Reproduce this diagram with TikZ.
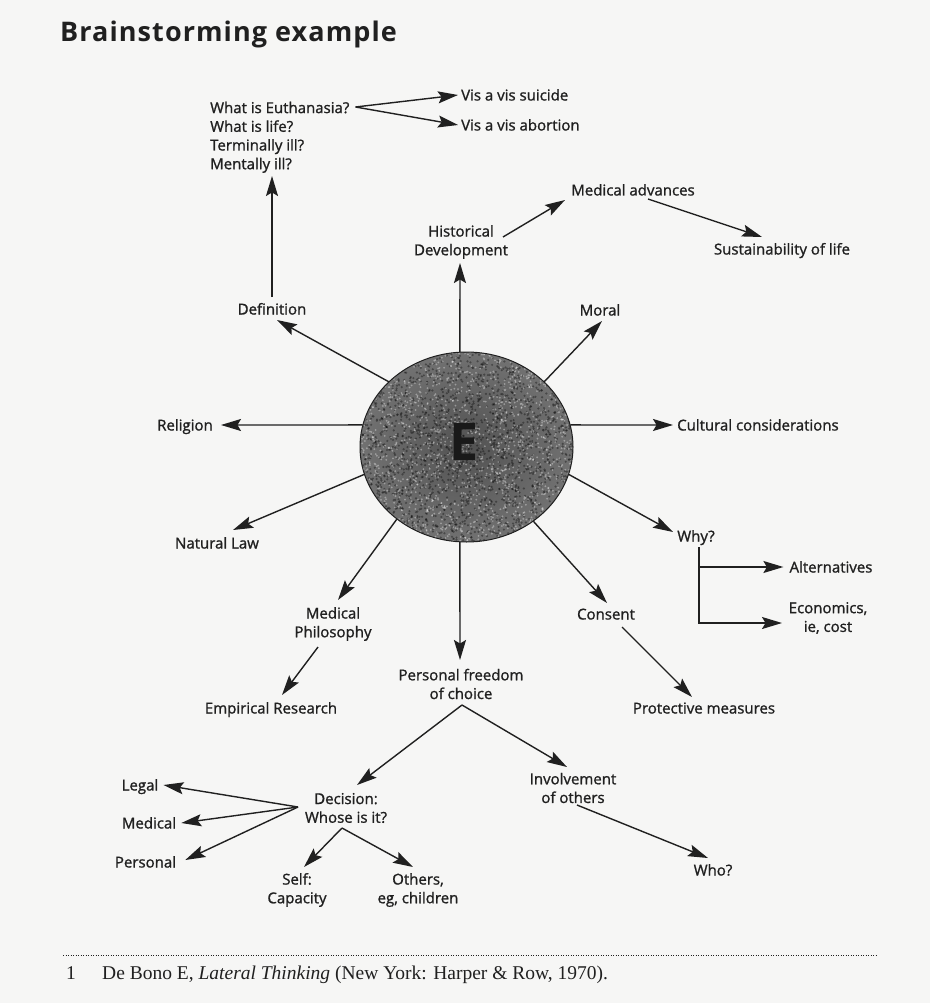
\documentclass[tikz,border=0pt]{standalone}
\usepackage{fontspec}
\setmainfont{Liberation Serif}
\newfontfamily\lbl[UprightFeatures={FakeBold=1.2}]{Open Sans}
\newfontfamily\ttl[LetterSpace=4]{Open Sans}
\usetikzlibrary{arrows.meta,calc,shapes.geometric}
\definecolor{paper}{RGB}{246,246,245}
\definecolor{ink}{RGB}{32,32,32}
\pgfdeclareradialshading{blob}{\pgfpoint{0bp}{0bp}}{color(0bp)=(black!68); color(28bp)=(black!54); color(50bp)=(black!38)}
\begin{document}
\begin{tikzpicture}[x=1pt,y=-1pt,
  lbase/.style={font=\lbl\fontsize{15}{18.7}\selectfont, text=ink, inner sep=0pt, align=center},
  lab/.style={lbase, text height=11pt, text depth=0pt},
  ml/.style={lbase},
  arr/.style={draw=ink, line width=1.4pt, -{Stealth[length=20pt,width=12pt,inset=3.5pt]}},
  ln/.style={draw=ink, line width=1.4pt}]
\useasboundingbox (0,0) rectangle (930,1003);
\fill[paper] (0,0) rectangle (930,1003);

% title
\node[font=\ttl\bfseries\fontsize{27}{30}\selectfont, text=ink, inner sep=0pt, anchor=base west] (title) at (60,42) {Brainstorming example};

% central blob
\node[ellipse, minimum width=213pt, minimum height=190pt, inner sep=0pt, shading=blob] (circ) at (466.5,447) {};
\begin{scope}
  \clip (466.5,447) ellipse [x radius=106.5, y radius=95];
  \pgfmathsetseed{42}
  \foreach \i in {1,...,2200}{
    \fill[black, opacity=0.35] (360+213*rnd, 352+190*rnd) circle[radius=1.2];
  }
  \foreach \i in {1,...,1800}{
    \fill[white, opacity=0.35] (360+213*rnd, 352+190*rnd) circle[radius=1.0];
  }
\end{scope}
\draw[ink, line width=1pt] (466.5,447) ellipse [x radius=106.5, y radius=95];
\node[font=\ttl\bfseries\fontsize{52}{52}\selectfont, text=black!90, inner sep=0pt] (E) at (464,441.5) {E};

% labels
\node[lbase, align=left, anchor=north west] (whatis) at (210,101.5) {What is Euthanasia?\\What is life?\\Terminally ill?\\Mentally ill?};
\node[lab, anchor=west] (vsui) at (461,95) {Vis a vis suicide};
\node[lab, anchor=west] (vabo) at (461,125) {Vis a vis abortion};
\node[lab] (def) at (272,309) {Definition};
\node[ml] (hist) at (461,242) {Historical\\Development};
\node[lab] (medadv) at (633,190) {Medical advances};
\node[lab] (sust) at (782,249) {Sustainability of life};
\node[lab] (moral) at (600,310) {Moral};
\node[lab] (rel) at (185,425) {Religion};
\node[lab, anchor=west] (cult) at (677,425) {Cultural considerations};
\node[lab] (natlaw) at (217,543) {Natural Law};
\node[ml] (medphil) at (333,624) {Medical\\Philosophy};
\node[lab] (emp) at (271,708) {Empirical Research};
\node[ml] (pfree) at (461,684) {Personal freedom\\of choice};
\node[lab] (why) at (696,536) {Why?};
\node[lab] (alt) at (831,567) {Alternatives};
\node[ml] (econ) at (828,618) {Economics,\\ie, cost};
\node[lab] (cons) at (606,614) {Consent};
\node[lab] (prot) at (704,708) {Protective measures};
\node[ml] (dec) at (346,808) {Decision:\\Whose is it?};
\node[ml] (inv) at (573,788) {Involvement\\of others};
\node[lab] (who) at (713,870) {Who?};
\node[lab] (legal) at (140,785) {Legal};
\node[lab] (med) at (149,823) {Medical};
\node[lab] (pers) at (145.5,862) {Personal};
\node[ml] (self) at (297,890) {Self:\\Capacity};
\node[ml] (oth) at (418,890) {Others,\\eg, children};

% connectors
\draw[arr] ($(whatis.north east)+(6,5.5)$) -- ($(vsui.west)+(-3,0)$);
\draw[arr] ($(whatis.north east)+(6,5.5)$) -- ($(vabo.west)+(-3,0)$);
\draw[arr] (circ.140) -- ($(def.center)+(5,11)$);
\draw[arr] ($(def.center)+(0,-12)$) -- ($(def.center |- whatis.south)+(0,3)$);
\draw[arr] (circ.94) -- ($(hist.center)+(-1,21)$);
\draw[arr] ($(hist.center)+(42,-5)$) -- ($(medadv.center)+(-68,10)$);
\draw[arr] ($(medadv.center)+(15,9)$) -- ($(sust.center)+(-20,-12)$);
\draw[arr] (circ.40) -- ($(moral.center)+(2,11)$);
\draw[arr] (circ.168) -- ($(rel.east)+(8,0)$);
\draw[arr] (circ.12) -- ($(cult.west)+(-4,0)$);
\draw[arr] (circ.195) -- ($(natlaw.center)+(16,-13)$);
\draw[arr] (circ.226) -- ($(medphil.center)+(5,-24)$);
\draw[arr] ($(medphil.center)+(-15,23)$) -- ($(emp.center)+(11,-13)$);
\draw[arr] (circ.266) -- ($(pfree.center)+(-1,-24)$);
\draw[arr] ($(pfree.center)+(1,21)$) -- ($(dec.center)+(11,-23)$);
\draw[arr] ($(pfree.center)+(1,21)$) -- ($(inv.center)+(-6,-21)$);
\draw[arr] ($(inv.center)+(4,17)$) -- ($(who.center)+(-5,-12)$);
\draw[arr] ($(dec.center)+(-48,-1)$) -- ($(legal.east)+(5,0)$);
\draw[arr] ($(dec.center)+(-48,-1)$) -- ($(med.east)+(5,0)$);
\draw[arr] ($(dec.center)+(-48,-1)$) -- ($(pers.east)+(9,-2)$);
\draw[arr] ($(dec.center)+(-4,20)$) -- ($(self.center)+(7,-23)$);
\draw[arr] ($(dec.center)+(-4,20)$) -- ($(oth.center)+(-5,-23)$);
\draw[arr] (circ.345) -- ($(why.center)+(-23,-4)$);
\coordinate (br) at ($(why.center)+(3,11)$);
\draw[arr] (br) |- ($(econ.center)+(-46,5)$);
\draw[arr] (br |- alt.west) -- ($(alt.west)+(-6,0)$);
\draw[arr] (circ.312) -- ($(cons.center)+(1,-11)$);
\draw[arr] ($(cons.center)+(16,13)$) -- ($(prot.center)+(-12,-11)$);

% footnote
\coordinate (rulel) at (63,955);
\coordinate (ruler) at (878,955);
\draw[ink, line width=1pt, dash pattern=on 1pt off 1.5pt] (rulel) -- (ruler);
\node[font=\fontsize{19.5}{23}\selectfont, text=ink, inner sep=0pt, anchor=base west] (fnum) at (66,979) {1};
\node[font=\fontsize{19.5}{23}\selectfont, text=ink, inner sep=0pt, anchor=base west] (fnote) at (102,979) {De Bono E, \textit{Lateral Thinking} (New York: Harper \& Row, 1970).};
\end{tikzpicture}
\end{document}
